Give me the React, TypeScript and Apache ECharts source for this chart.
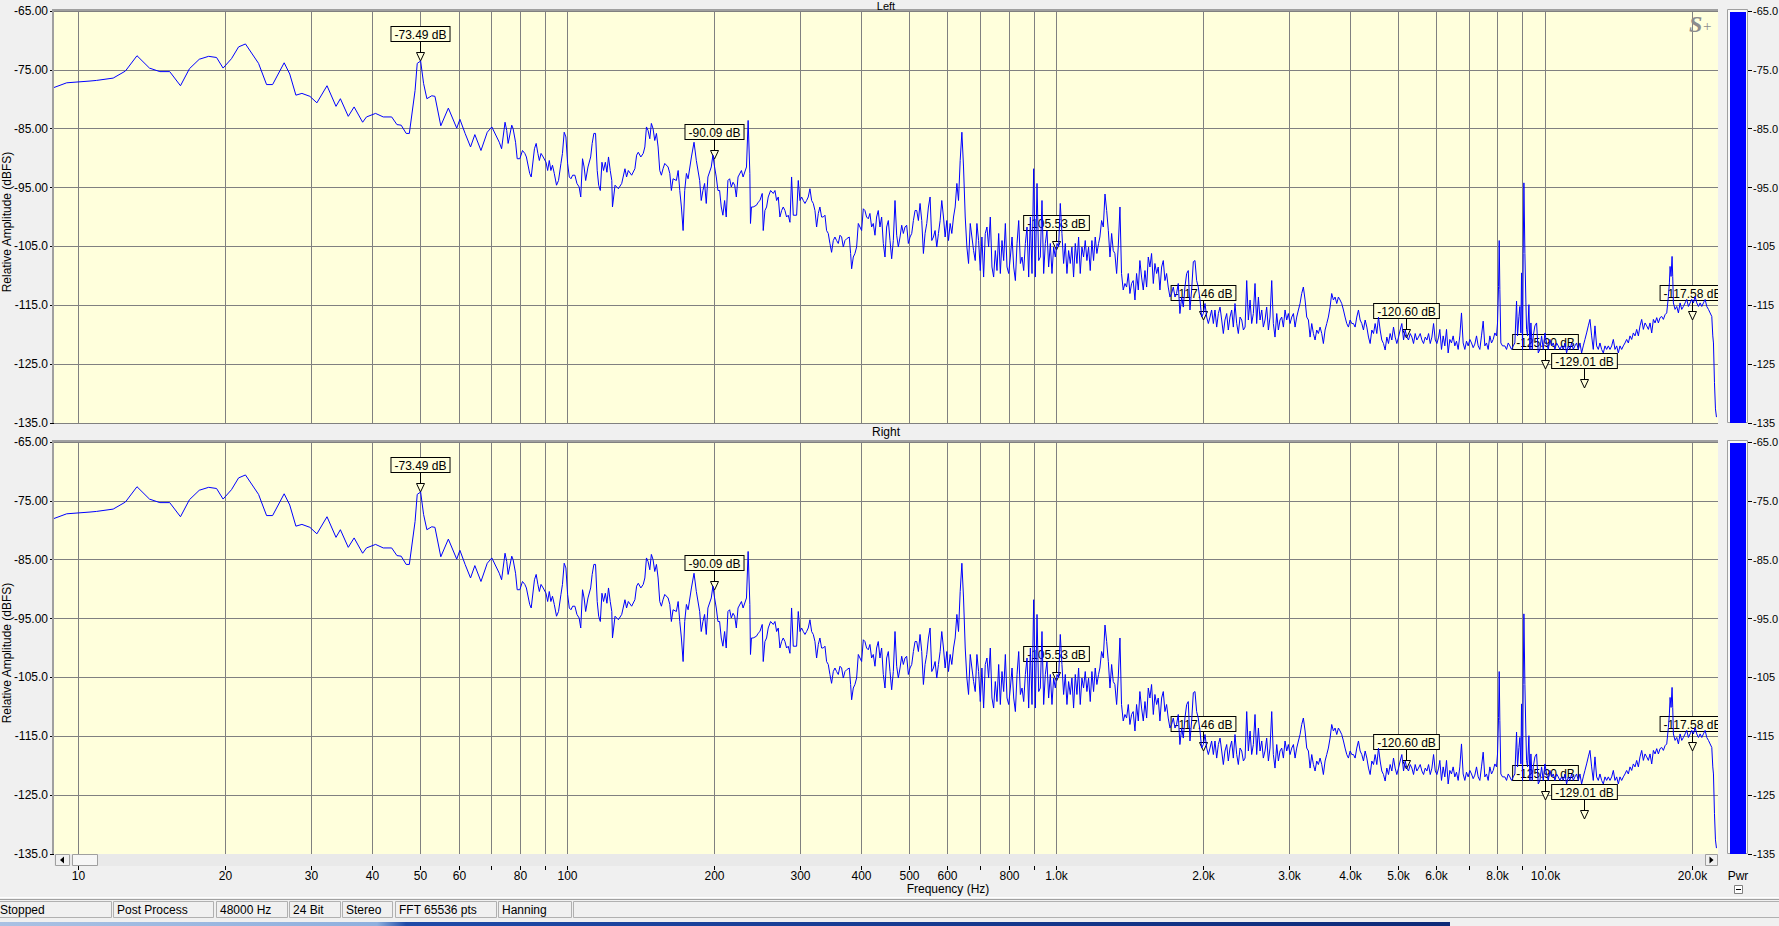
import React, { useEffect, useRef } from "react";
import * as echarts from "echarts";

const FONT = '"Liberation Sans", Arial, Helvetica, sans-serif';
const PLOT_BG = "#ffffdc";
const GRID_COLOR = "#808080";
const LINE_COLOR = "#0000ff";

const F_MIN = 8.93;
const F_MAX = 22600;
const Y_MIN = -135;
const Y_MAX = -65;

// Spectrum: [frequency Hz, level dBFS]
const segLow: [number, number][] = [
  [8.93,-78.0],[9.48,-77.2],[10.58,-76.9],[10.9,-76.8],[11.8,-76.4],[12.5,-75.2],[13.2,-72.6],[14.0,-74.7],[14.7,-75.3],[15.4,-75.3],[16.2,-77.7],[16.9,-74.8],[17.7,-73.2],[18.5,-72.7],[19.2,-72.9],[19.8,-74.7],[20.6,-73.1],[21.3,-71.1],[22.0,-70.6],[23.4,-73.9],[24.3,-77.5],[25.0,-77.5],[26.4,-73.8],[27.1,-75.7],[27.9,-79.3],[28.7,-79.0],[29.8,-79.5],[30.8,-80.6],[32.3,-77.7],[33.7,-81.2],[34.4,-79.9],[35.7,-82.9],[36.7,-81.3],[38.2,-83.9],[38.9,-83.0],[40.6,-82.4],[42.1,-83.0],[43.8,-83.0],[44.9,-84.3],[45.8,-84.4],[46.9,-85.8],[47.6,-85.8],[48.9,-78.5],[49.4,-73.9],[50.2,-73.5],[50.9,-77.3],[51.7,-79.9],[52.9,-79.4],[53.7,-79.5],[55.2,-84.5],[57.2,-81.5],[59.5,-84.9],[60.4,-83.4],[61.9,-85.8],[63.5,-88.1],[64.8,-86.0],[66.7,-88.7],[68.7,-85.6],[70.2,-84.7],[72.7,-87.3]
];

const segBass: [number, number][] = [
  [73.5,-88.4],[74.7,-83.9],[75.3,-85.3],[75.8,-87.5],[77.1,-84.4],[77.6,-85.0],[78.5,-87.3],[79.1,-90.1],[80.1,-90.1],[81.1,-88.7],[82.0,-89.2],[82.6,-89.8],[83.9,-92.6],[84.5,-93.2],[85.8,-88.4],[86.5,-87.5],[87.2,-89.2],[87.8,-90.4],[88.5,-89.2],[89.4,-89.8],[90.6,-90.7],[91.3,-92.1],[92.0,-90.4],[92.7,-92.1],[93.4,-91.2],[94.2,-92.6],[95.2,-94.6],[96.1,-93.8],[97.2,-90.9],[97.9,-89.2],[98.7,-85.6],[99.5,-86.4],[100.3,-90.9],[101.1,-93.2],[101.9,-93.5],[102.7,-92.9],[103.8,-92.9],[104.8,-94.3],[105.9,-94.9],[106.7,-96.6],[107.6,-90.1],[108.4,-91.5],[109.2,-93.8],[110.4,-91.5],[111.8,-89.8],[112.6,-87.5],[113.5,-85.8],[114.4,-85.8],[115.3,-92.1],[116.1,-94.6],[117.0,-95.5],[117.9,-90.7],[118.8,-92.1],[119.8,-90.7],[120.7,-92.4],[121.6,-89.8],[122.6,-92.1],[123.5,-93.8],[123.9,-98.3],[125.4,-94.6],[127.4,-95.2],[129.4,-94.3],[131.4,-91.8],[132.4,-93.2],[133.5,-92.1],[135.6,-92.9],[137.7,-91.8],[138.8,-89.5],[139.9,-89.0],[141.6,-89.8],[143.2,-89.2],[144.3,-88.1],[145.4,-84.7],[146.5,-85.3],[147.7,-86.7],[148.8,-84.1],[150.0,-85.0],[151.2,-87.0],[152.4,-85.8],[153.6,-88.1],[154.8,-92.1],[156.0,-92.9],[157.2,-91.8],[158.5,-90.9],[161.0,-91.5],[162.3,-92.6],[163.5,-95.5],[164.8,-93.5],[167.4,-93.8],[168.8,-92.1],[170.1,-95.5],[171.4,-98.3],[172.8,-102.3],[174.1,-95.5],[175.5,-92.6],[176.9,-93.5],[179.7,-89.8],[181.9,-87.3],[183.9,-90.4],[186.8,-93.8],[188.2,-97.2],[189.7,-95.5],[191.2,-94.3],[192.7,-97.7],[194.2,-93.2],[197.3,-91.5],[198.8,-89.5],[200.4,-91.5],[202.0,-93.2],[203.6,-95.5],[205.2,-95.5],[206.8,-98.3],[208.4,-99.7],[210.1,-97.2],[211.7,-100.0],[213.4,-93.8],[215.1,-93.5],[216.8,-94.9],[218.6,-94.1],[220.3,-94.6],[222.0,-96.6],[223.8,-93.2],[227.4,-92.1],[229.2,-93.2],[232.9,-91.5],[234.7,-83.6],[236.6,-92.6],[237.3,-101.1],[238.4,-98.3],[240.3,-98.3],[244.1,-98.0],[246.0,-97.5]
];

const segMid: [number, number][] = [
  [248.1,-97.2],[250.8,-96.0],[252.0,-102.3],[254.0,-98.9],[256.0,-98.3],[258.0,-96.6],[260.9,-95.5],[264.2,-96.0],[266.3,-95.5],[268.4,-97.2],[270.5,-96.6],[272.6,-100.0],[274.8,-98.9],[276.9,-98.3],[279.1,-98.9],[281.3,-100.0],[283.5,-99.7],[285.8,-100.9],[288.0,-93.2],[290.3,-99.7],[294.9,-99.7],[297.2,-93.8],[299.6,-97.2],[301.9,-96.6],[304.3,-97.2],[306.7,-97.7],[309.1,-97.2],[311.5,-96.6],[314.0,-95.2],[316.5,-97.2],[319.0,-97.7],[321.5,-98.9],[324.0,-101.7],[326.6,-99.4],[329.1,-98.3],[331.7,-100.0],[334.3,-100.0],[337.0,-99.7],[339.6,-102.3],[342.3,-102.8],[345.0,-104.5],[347.7,-106.0],[350.5,-104.0],[353.2,-103.4],[356.0,-104.0],[358.8,-104.5],[361.7,-103.1],[364.5,-103.4],[367.4,-105.1],[370.3,-104.0],[373.2,-103.7],[377.9,-103.4],[380.3,-106.2],[382.1,-108.8],[385.1,-106.8],[388.1,-106.2],[391.2,-105.1],[394.3,-101.1],[397.4,-101.7],[400.5,-102.3],[403.7,-98.6],[406.8,-98.9],[410.0,-100.0],[413.3,-100.3],[416.5,-99.4],[419.8,-101.7],[423.1,-101.1],[426.5,-103.1],[429.8,-100.0],[433.2,-98.9],[436.6,-101.7],[440.1,-100.0],[443.6,-104.5],[447.1,-106.8],[450.6,-101.7],[454.2,-100.6],[457.8,-104.0],[461.4,-107.1],[465.0,-104.0],[468.7,-97.2],[472.4,-103.1],[476.1,-105.1],[479.9,-103.4],[483.7,-101.4],[487.5,-102.8],[491.3,-101.7],[495.2,-101.4],[499.1,-104.5],[503.1,-103.4],[507.1,-102.8],[511.1,-100.6],[515.1,-98.9],[519.2,-98.9],[523.3,-100.6],[527.4,-97.7],[531.6,-100.6],[535.8,-106.2],[540.0,-102.8],[544.3,-101.1],[548.6,-98.3],[552.9,-96.6],[557.3,-104.0],[561.7,-103.4],[566.1,-102.3],[570.6,-105.1],[575.1,-102.8],[579.7,-100.6],[584.2,-97.2],[588.9,-100.0],[593.5,-103.4],[598.2,-100.6],[602.9,-104.0],[607.7,-101.1],[612.5,-102.8],[617.4,-100.0],[622.2,-98.3],[627.2,-94.3],[632.1,-97.2],[637.1,-90.4],[642.2,-85.6],[647.2,-91.5],[652.4,-100.0],[657.5,-105.1],[662.7,-107.9],[668.0,-101.1],[673.3,-103.4],[678.6,-105.7],[683.9,-107.4],[689.3,-101.1],[694.8,-104.0],[700.3,-109.1],[705.8,-103.4],[711.4,-110.2],[717.0,-102.8],[722.7,-101.7],[728.4,-105.1],[734.2,-100.0],[740.0,-108.5],[745.8,-110.2],[751.7,-105.7],[757.7,-109.1],[763.7,-102.8],[769.7,-109.6],[775.8,-104.0],[781.9,-107.4],[788.1,-101.1],[794.3,-108.5],[800.6,-109.6],[806.9,-106.8],[813.3,-103.4],[819.7,-108.5],[826.2,-110.8],[832.7,-104.5],[839.3,-100.6],[845.9,-107.9],[852.5,-106.8],[859.2,-109.1],[866.0,-104.5],[872.8,-101.7],[879.6,-110.2],[886.6,-100.0],[893.5,-109.6],[900.5,-91.8],[907.6,-110.2],[914.8,-94.3],[922.0,-107.4],[929.2,-106.8],[936.5,-97.2],[943.9,-109.6],[951.3,-104.5],[958.8,-102.3],[966.3,-108.5],[973.9,-104.5],[981.6,-109.6],[989.3,-105.1],[997.1,-106.8],[1004.9,-104.5],[1012.8,-105.1],[1020.8,-97.7],[1028.8,-102.8],[1036.9,-107.9],[1045.1,-104.5],[1053.3,-109.6],[1061.6,-105.7],[1069.9,-107.9],[1078.3,-105.1],[1086.8,-110.2],[1095.4,-104.5],[1104.0,-107.9],[1112.7,-103.4],[1121.4,-109.6],[1130.3,-105.1],[1139.1,-106.8],[1148.1,-104.0],[1157.1,-107.4],[1166.2,-105.1],[1175.4,-109.1],[1184.7,-104.0],[1194.0,-107.4],[1203.4,-103.4],[1212.8,-106.2],[1222.4,-104.5]
];

const segUpperMid: [number, number][] = [
  [1230,-103.4],[1240,-100.6],[1250,-101.7],[1260,-96.1],[1270,-98.9],[1280,-102.3],[1290,-106.8],[1300,-102.8],[1310,-105.7],[1320,-106.2],[1331,-109.6],[1341,-105.1],[1352,-98.3],[1362,-109.6],[1373,-112.4],[1384,-111.3],[1395,-111.9],[1406,-109.6],[1417,-113.0],[1428,-111.3],[1439,-110.8],[1451,-114.1],[1462,-109.6],[1474,-112.4],[1485,-107.4],[1497,-110.2],[1509,-112.4],[1521,-109.1],[1533,-111.9],[1545,-106.8],[1557,-108.5],[1569,-106.2],[1582,-111.3],[1594,-107.9],[1607,-109.6],[1619,-108.5],[1632,-112.4],[1645,-108.5],[1658,-107.4],[1671,-110.8],[1684,-109.6],[1697,-111.9],[1711,-113.6],[1724,-113.0],[1738,-111.9],[1752,-113.6],[1765,-113.0],[1779,-111.3],[1793,-116.4],[1808,-113.6],[1822,-115.3],[1836,-111.9],[1851,-109.6],[1865,-109.1],[1880,-115.8],[1895,-112.4],[1910,-107.6],[1925,-107.4],[1940,-110.8],[1955,-111.9],[1971,-114.1],[1986,-117.0],[2002,-116.4],[2018,-114.7],[2034,-117.0],[2050,-118.1],[2066,-117.0],[2082,-115.8],[2099,-118.1],[2115,-115.8],[2132,-118.7],[2149,-116.4],[2166,-115.3],[2183,-117.5],[2200,-119.8],[2217,-117.5],[2235,-116.4],[2252,-119.2],[2270,-117.0],[2288,-115.8],[2306,-118.7],[2324,-114.7],[2343,-118.1],[2361,-119.8],[2380,-117.0],[2399,-117.5],[2418,-119.2],[2437,-118.7],[2456,-110.8],[2475,-117.5],[2495,-114.1],[2514,-118.1],[2534,-116.4],[2554,-111.3],[2574,-118.1],[2595,-113.6],[2615,-117.5],[2636,-115.8],[2656,-118.7],[2677,-117.5],[2698,-115.3],[2720,-119.2],[2741,-117.0],[2763,-110.8],[2784,-118.1],[2806,-120.4],[2829,-116.4],[2851,-119.2],[2873,-117.5],[2896,-117.0],[2919,-118.7],[2942,-115.8],[2965,-117.5],[2988,-116.4],[3012,-118.1],[3036,-117.0],[3060,-116.4],[3084,-118.7],[3108,-117.0],[3133,-115.8],[3157,-114.7],[3182,-113.0],[3207,-111.9],[3233,-114.1],[3258,-117.0],[3284,-117.5],[3310,-120.4],[3336,-118.1],[3362,-119.8],[3389,-120.9],[3415,-119.2],[3442,-119.8],[3469,-118.7],[3497,-119.8],[3524,-121.5],[3552,-119.2],[3580,-118.1],[3608,-117.0],[3637,-115.3],[3665,-113.0],[3694,-114.1],[3723,-113.6],[3753,-114.7],[3782,-113.6],[3812,-114.1],[3842,-114.7],[3873,-115.8],[3903,-117.0],[3934,-118.1],[3965,-118.7],[3997,-117.5],[4028,-118.1],[4060,-118.1],[4092,-118.7],[4124,-117.0],[4157,-115.8],[4190,-117.5],[4223,-118.1],[4256,-119.2],[4290,-117.5],[4324,-118.7],[4358,-120.4],[4392,-121.5],[4427,-119.2],[4462,-119.8],[4497,-118.1],[4532,-119.8],[4568,-117.0],[4604,-119.2],[4640,-120.9],[4677,-121.5],[4714,-122.6],[4751,-120.4],[4788,-121.5],[4826,-119.8],[4864,-120.9],[4903,-118.7],[4941,-120.4],[4980,-121.5],[5020,-120.4],[5059,-119.2],[5099,-118.1],[5140,-120.9],[5180,-119.2],[5221,-120.4],[5262,-120.9],[5304,-119.8],[5346,-120.4],[5388,-121.5],[5430,-119.8],[5473,-120.9],[5516,-120.4],[5560,-119.8],[5604,-120.9],[5648,-121.5],[5693,-120.4],[5738,-120.9],[5783,-119.8],[5829,-121.5],[5875,-120.4],[5921,-118.1],[5968,-120.9],[6015,-121.5],[6063,-120.4]
];

const segHigh: [number, number][] = [
  [6098,-119.1],[6146,-122.5],[6195,-120.2],[6243,-121.9],[6293,-119.1],[6342,-123.1],[6392,-120.8],[6442,-121.4],[6493,-120.2],[6544,-121.9],[6596,-121.1],[6648,-122.5],[6700,-120.2],[6753,-116.3],[6806,-121.4],[6860,-122.5],[6914,-121.1],[6969,-121.9],[7024,-120.8],[7079,-121.4],[7135,-122.2],[7191,-121.6],[7248,-120.2],[7305,-121.9],[7362,-122.5],[7420,-120.2],[7479,-117.7],[7538,-121.9],[7597,-121.4],[7657,-122.5],[7718,-120.2],[7779,-121.4],[7840,-120.8],[7902,-119.7],[7964,-120.2],[8002,-118.0],[8040,-111.8],[8065,-104.0],[8090,-112.3],[8128,-121.4],[8193,-121.9],[8284,-121.9],[8349,-122.5],[8415,-121.4],[8481,-121.9],[8548,-122.5],[8615,-121.9],[8683,-121.4],[8752,-114.3],[8793,-120.2],[8849,-116.9],[8890,-115.2],[8932,-119.7],[8960,-109.5],[9003,-122.5],[9031,-106.2],[9060,-94.2],[9103,-106.2],[9146,-114.6],[9175,-119.1],[9218,-120.2],[9276,-114.9],[9320,-122.5],[9364,-118.0],[9423,-122.5],[9468,-120.2],[9542,-118.5],[9618,-118.0],[9694,-123.1],[9770,-122.5],[9847,-120.2],[9924,-122.5],[10003,-119.7],[10081,-121.4],[10161,-122.5],[10241,-120.8],[10322,-121.9],[10403,-121.4],[10485,-122.5],[10568,-121.4],[10651,-121.9],[10735,-122.5],[10820,-121.9],[10905,-122.5],[10991,-121.4],[11078,-123.1],[11165,-121.9],[11253,-122.5],[11342,-121.4],[11432,-122.5],[11522,-121.9],[11613,-121.4],[11704,-122.5],[11797,-121.4],[11890,-123.1],[11983,-121.9],[12078,-120.8],[12173,-119.7],[12269,-118.5],[12366,-117.4],[12464,-120.2],[12562,-122.5],[12661,-118.5],[12761,-121.9],[12862,-122.5],[12963,-121.4],[13066,-122.5],[13169,-123.1],[13273,-121.9],[13377,-122.5],[13483,-121.9],[13590,-122.5],[13697,-121.9],[13805,-120.8],[13913,-122.5],[14023,-121.9],[14134,-123.1],[14245,-121.9],[14358,-122.5],[14471,-121.9],[14585,-121.4],[14700,-120.8],[14816,-121.4],[14933,-120.2],[15051,-120.8],[15170,-119.7],[15290,-120.2],[15410,-119.1],[15532,-120.2],[15654,-118.5],[15778,-117.4],[15902,-119.1],[16028,-118.0],[16154,-118.5],[16282,-119.1],[16410,-118.0],[16540,-119.7],[16670,-117.4],[16802,-118.0],[16934,-117.1],[17068,-118.0],[17203,-117.1],[17338,-116.9],[17475,-117.4],[17613,-116.6],[17752,-116.3],[17892,-113.5],[17977,-111.2],[18033,-108.4],[18118,-110.1],[18204,-106.7],[18261,-110.1],[18318,-114.6],[18463,-115.7],[18609,-115.2],[18756,-116.3],[18904,-114.6],[19053,-115.7],[19203,-115.2],[19355,-114.6],[19507,-114.0],[19661,-115.2],[19817,-114.6],[19973,-114.0],[20131,-114.6],[20290,-113.5],[20450,-114.6],[20611,-115.2],[20774,-114.6],[20938,-115.2],[21103,-114.6],[21270,-114.0],[21437,-115.2],[21607,-115.7],[21777,-116.3],[21949,-116.9],[22052,-120.2],[22122,-121.4],[22226,-128.1],[22331,-132.6],[22437,-134.0]
];

// Both channels of this capture show the same spectrum
const spectrumLeft: [number, number][] = [...segLow, ...segBass, ...segMid, ...segUpperMid, ...segHigh];
const spectrumRight: [number, number][] = [...segLow, ...segBass, ...segMid, ...segUpperMid, ...segHigh];

const markerFreqs = [50, 200, 1000, 2000, 5200, 10000, 12000, 20000];
const markerDb = [-73.49, -90.09, -105.53, -117.46, -120.6, -125.9, -129.01, -117.58];

const gridFreqs = [10, 20, 30, 40, 50, 60, 70, 80, 90, 100, 200, 300, 400, 500, 600, 700, 800, 900, 1000, 2000, 3000, 4000, 5000, 6000, 7000, 8000, 9000, 10000, 20000];
const labelFreqs = [10, 20, 30, 40, 50, 60, 80, 100, 200, 300, 400, 500, 600, 800, 1000, 2000, 3000, 4000, 5000, 6000, 8000, 10000, 20000];
const labelTexts = ["10", "20", "30", "40", "50", "60", "80", "100", "200", "300", "400", "500", "600", "800", "1.0k", "2.0k", "3.0k", "4.0k", "5.0k", "6.0k", "8.0k", "10.0k", "20.0k"];

const panelTitles = ["Left", "Right"];
const statusTexts = ["Stopped", "Post Process", "48000 Hz", "24 Bit", "Stereo", "FFT 65536 pts", "Hanning", ""];

const GRID_LEFT = 54;
const GRID_W = 1664;
const GRID_H = 412;
const GRID_TOPS = [11, 442];

const fmtY = (v: number) => v.toFixed(2).slice(0, 6);
// the meter scale at the window's right edge only has room for the first characters
const fmtMeter = (v: number) => v.toFixed(2).slice(0, v <= -100 ? 4 : 5);

export default function App() {
  const ref = useRef<HTMLDivElement>(null);

  useEffect(() => {
    if (!ref.current) return;
    const chart = echarts.init(ref.current, null, { renderer: "svg" });
    const font12 = `12px ${FONT}`;

    const yAxisFor = (gridIndex: number, position: string, offset: number) => ({
      type: "value",
      gridIndex,
      position,
      offset,
      min: Y_MIN,
      max: Y_MAX,
      interval: 10,
      axisLine: { show: false },
      axisTick: { show: true, length: 4, lineStyle: { color: "#000", width: 1 } },
      axisLabel: {
        show: true,
        margin: position === "left" ? 6 : 5,
        color: "#000",
        fontSize: position === "left" ? 12 : 11,
        fontFamily: FONT,
        formatter: position === "left" ? fmtY : fmtMeter,
      },
      splitLine: { show: position === "left", lineStyle: { color: GRID_COLOR, width: 1 } },
    });

    const vGridSeries = (gi: number) => ({
      type: "custom",
      xAxisIndex: gi,
      yAxisIndex: gi,
      silent: true,
      z: 1,
      clip: false,
      encode: { x: 0, y: 1 },
      data: gridFreqs.map((f) => [f, Y_MIN]),
      renderItem: (_p: any, api: any) => {
        const a = api.coord([api.value(0), Y_MAX]);
        const b = api.coord([api.value(0), Y_MIN]);
        const x = Math.round(a[0]) + 0.5;
        return {
          type: "line",
          shape: { x1: x, y1: a[1], x2: x, y2: b[1] },
          style: { stroke: GRID_COLOR, lineWidth: 1 },
        };
      },
    });

    const markerSeries = (gi: number) => ({
      type: "custom",
      xAxisIndex: gi,
      yAxisIndex: gi,
      silent: true,
      z: 2,
      clip: true,
      encode: { x: 0, y: 1 },
      data: markerFreqs.map((f, i) => [f, markerDb[i]]),
      renderItem: (params: any, api: any) => {
        const p = api.coord([api.value(0), api.value(1)]);
        const x = Math.round(p[0]) + 0.5;
        const tip = Math.round(p[1]);
        const label = markerDb[params.dataIndex].toFixed(2) + " dB";
        return {
          type: "group",
          children: [
            { type: "line", shape: { x1: x, y1: tip - 20, x2: x, y2: tip - 8 }, style: { stroke: "#000", lineWidth: 1 } },
            {
              type: "polygon",
              shape: { points: [[x - 4, tip - 8.5], [x + 4, tip - 8.5], [x, tip]] },
              style: { fill: PLOT_BG, stroke: "#000", lineWidth: 1 },
            },
            {
              type: "text",
              x: x,
              y: tip - 20,
              style: {
                text: label,
                font: font12,
                fill: "#000",
                align: "center",
                verticalAlign: "bottom",
                lineHeight: 13,
                backgroundColor: PLOT_BG,
                borderColor: "#000",
                borderWidth: 1,
                padding: [1, 3, 0, 3],
              },
            },
          ],
        };
      },
    });

    const lineSeries = (gi: number, data: [number, number][]) => ({
      type: "line",
      xAxisIndex: gi,
      yAxisIndex: gi,
      data,
      symbol: "none",
      showSymbol: false,
      silent: true,
      z: 3,
      clip: true,
      lineStyle: { color: LINE_COLOR, width: 1 },
      itemStyle: { color: LINE_COLOR },
    });

    const xLabelSeries = {
      type: "custom",
      xAxisIndex: 1,
      yAxisIndex: 1,
      silent: true,
      z: 5,
      clip: false,
      encode: { x: 0, y: 1 },
      data: gridFreqs.map((f) => [f, Y_MIN]),
      renderItem: (_p: any, api: any) => {
        const f = api.value(0);
        const p = api.coord([f, Y_MIN]);
        const x = Math.round(p[0]) + 0.5;
        const y = Math.round(p[1]);
        const children: any[] = [
          { type: "line", shape: { x1: x, y1: y + 12, x2: x, y2: y + 16 }, style: { stroke: "#000", lineWidth: 1 } },
        ];
        const idx = labelFreqs.indexOf(f);
        if (idx >= 0) {
          children.push({
            type: "text",
            x: x,
            y: y + 22,
            style: { text: labelTexts[idx], font: font12, fill: "#000", align: "center", verticalAlign: "middle" },
          });
        }
        return { type: "group", children };
      },
    };

    const g: any[] = [];
    const rect = (x: number, y: number, w: number, h: number, fill: string, stroke?: string) => ({
      type: "rect",
      z: 10,
      silent: true,
      shape: { x, y, width: w, height: h },
      style: stroke ? { fill, stroke, lineWidth: 1 } : { fill },
    });
    const txt = (text: string, x: number, y: number, align = "left", font = font12, fill = "#000") => ({
      type: "text",
      z: 10,
      silent: true,
      x,
      y,
      style: { text, font, fill, align, verticalAlign: "middle" },
    });

    // panel frames
    GRID_TOPS.forEach((top, i) => {
      g.push(rect(52, top - 2, GRID_W + 2, 2, "#a0a0a0"));
      g.push(rect(52, top - 2, 2, GRID_H + 2, "#a0a0a0"));
      g.push({
        type: "text",
        z: 10,
        silent: true,
        x: 7,
        y: i === 0 ? 222 : 653,
        rotation: Math.PI / 2,
        style: { text: "Relative Amplitude (dBFS)", font: font12, fill: "#000", align: "center", verticalAlign: "middle" },
      });
      // Pwr meter
      g.push(rect(1727.5, top - 1.5, 20, GRID_H + 1, "#f8f8f8", "#a0a0a0"));
      g.push(rect(1730, top + 1, 16, GRID_H - 1, "#0000ff"));
    });
    // panel titles
    g.push(txt(panelTitles[0], 886, 5.5, "center", `11px ${FONT}`));
    g.push(txt(panelTitles[1], 886, 432, "center"));

    // S+ logo
    g.push(txt("S", 1689, 24, "left", `italic bold 24px "Liberation Serif", "DejaVu Serif", serif`, "#8c8c8c"));
    g.push(txt("+", 1703, 26, "left", `15px "Liberation Serif", serif`, "#8c8c8c"));

    // scrollbar
    g.push(rect(54, 854, GRID_W, 12, "#e9e9e9"));
    g.push(rect(55.5, 854.5, 14, 11, "#f0f0f0", "#a0a0a0"));
    g.push({ type: "polygon", z: 11, silent: true, shape: { points: [[60, 860], [64, 856.5], [64, 863.5]] }, style: { fill: "#000" } });
    g.push(rect(72.5, 854.5, 25, 11, "#f6f6f6", "#a0a0a0"));
    g.push(rect(1705.5, 854.5, 12, 11, "#f0f0f0", "#a0a0a0"));
    g.push({ type: "polygon", z: 11, silent: true, shape: { points: [[1713.5, 860], [1709.5, 856.5], [1709.5, 863.5]] }, style: { fill: "#000" } });

    // axis captions
    g.push(txt("Frequency (Hz)", 948, 889, "center"));
    g.push(txt("Pwr", 1738, 876, "center"));
    g.push(rect(1734.5, 885.5, 8, 8, "#ffffff", "#808080"));
    g.push({ type: "line", z: 11, silent: true, shape: { x1: 1736, y1: 889.5, x2: 1741, y2: 889.5 }, style: { stroke: "#000", lineWidth: 1 } });

    // status bar
    g.push({ type: "line", z: 10, silent: true, shape: { x1: 0, y1: 897.5, x2: 1779, y2: 897.5 }, style: { stroke: "#ffffff", lineWidth: 1 } });
    g.push({ type: "line", z: 10, silent: true, shape: { x1: 0, y1: 899.5, x2: 1779, y2: 899.5 }, style: { stroke: "#a0a0a0", lineWidth: 1 } });
    const boxes = [[-4, 111], [113, 213], [216, 287], [289, 340], [342, 392], [395, 496], [498, 571], [573, 1790]];
    boxes.forEach(([x1, x2], i) => {
      g.push(rect(x1 + 0.5, 901.5, x2 - x1, 16, "none", "#b0b0b0"));
      if (statusTexts[i]) g.push(txt(statusTexts[i], x1 + 4, 910, "left"));
    });
    // taskbar edge
    g.push({
      type: "rect",
      z: 10,
      silent: true,
      shape: { x: 0, y: 922, width: 1450, height: 4 },
      style: {
        fill: new echarts.graphic.LinearGradient(0, 0, 1, 0, [
          { offset: 0, color: "#a9c1e3" },
          { offset: 0.26, color: "#8fb0de" },
          { offset: 0.28, color: "#1f4aa8" },
          { offset: 1, color: "#0d2a78" },
        ]),
      },
    });

    const option: any = {
      animation: false,
      backgroundColor: "#f0f0f0",
      grid: GRID_TOPS.map((top) => ({
        left: GRID_LEFT,
        top,
        width: GRID_W,
        height: GRID_H,
        show: true,
        backgroundColor: PLOT_BG,
        borderWidth: 0,
        containLabel: false,
        outerBoundsMode: "none",
      })),
      xAxis: [0, 1].map((gi) => ({
        type: "log",
        logBase: 10,
        gridIndex: gi,
        min: F_MIN,
        max: F_MAX,
        show: false,
      })),
      yAxis: [yAxisFor(0, "left", 0), yAxisFor(1, "left", 0), yAxisFor(0, "right", 30), yAxisFor(1, "right", 30)],
      series: [
        vGridSeries(0),
        vGridSeries(1),
        markerSeries(0),
        markerSeries(1),
        lineSeries(0, spectrumLeft),
        lineSeries(1, spectrumRight),
        xLabelSeries,
      ],
      graphic: g,
    };

    chart.setOption(option);
    return () => chart.dispose();
  }, []);

  return (
    <div
      ref={ref}
      style={{ position: "fixed", left: 0, top: 0, width: 1779, height: 926, background: "#f0f0f0", overflow: "hidden" }}
    />
  );
}
